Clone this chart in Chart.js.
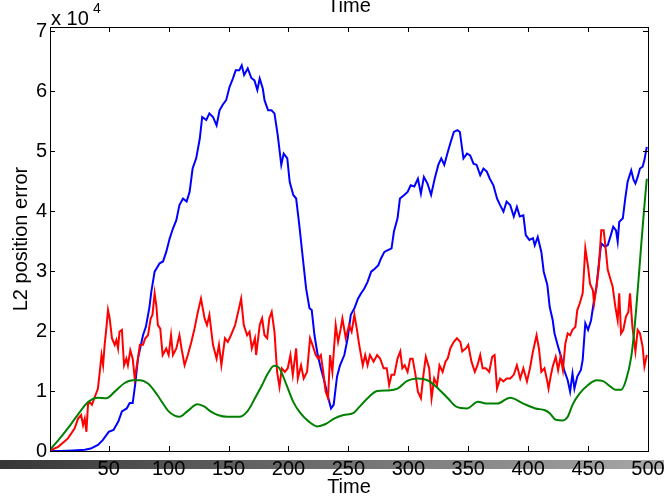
<!DOCTYPE html>
<html>
<head>
<meta charset="utf-8">
<script src="https://cdn.jsdelivr.net/npm/chart.js@4/dist/chart.umd.min.js"></script>
<style>
  body { margin: 0; background: #fff; }
  #wrap { width: 664px; height: 499px; position: relative; }
</style>
</head>
<body>
<div id="wrap"><canvas id="myChart"></canvas></div>
<script>
// values are in units of 10^4 (the axis says "x 10^4")
const xTicks = [50, 100, 150, 200, 250, 300, 350, 400, 450, 500];
const yTicks = [0, 1, 2, 3, 4, 5, 6, 7];

const blueTime = [0, 10, 20, 30, 35, 41, 45, 50, 54, 58, 61, 65, 67.5, 70, 72, 74.4, 78.6, 81, 84, 85.5, 88.3, 92.5, 95.3, 98, 100.8, 103.6, 106.4, 109, 112, 115, 117.5, 120, 123, 126, 128, 131.4, 134, 137, 140, 142.5, 145, 148, 150.8, 153.6, 156, 159, 161, 163, 166, 169, 171.6, 174, 176, 178.6, 180, 183, 185.8, 188.3, 191, 194, 196, 199, 201, 204, 206.4, 209, 212, 214.7, 217.5, 219.4, 221.7, 224.4, 227, 230, 232.7, 235.5, 237.7, 240.5, 243, 246.6, 249.4, 252, 255, 258, 260.6, 263.3, 266, 269, 272, 275, 277.2, 280, 283, 286, 288, 291, 293, 296.6, 299.4, 302, 305, 308, 310.5, 313, 316, 319, 322, 325, 327.5, 330, 333, 335.5, 338, 341, 343, 346, 349, 351.6, 354.4, 357, 360, 362.7, 365.5, 368, 371, 374, 376.6, 379.4, 382, 385, 388, 390.6, 393, 396, 398, 401, 404, 405.5, 408, 411, 413, 416, 418, 420.5, 422, 425, 427.5, 430, 433, 435, 437, 438.6, 441, 444, 445.5, 447.7, 450, 452.5, 455, 457, 459, 461, 464, 466.4, 469, 471, 473.3, 474.7, 476, 479, 481, 483, 486, 488, 489.5, 491.4, 493.3, 495.5, 497, 499];
const blueVal = [0, 0, 0.01, 0.02, 0.04, 0.1, 0.18, 0.32, 0.35, 0.49, 0.66, 0.71, 0.8, 0.8, 1.1, 1.54, 1.93, 2.07, 2.4, 2.65, 2.99, 3.13, 3.16, 3.32, 3.54, 3.71, 3.85, 4.1, 4.21, 4.16, 4.32, 4.71, 4.88, 5.21, 5.57, 5.52, 5.63, 5.57, 5.43, 5.68, 5.77, 5.85, 6.07, 6.21, 6.35, 6.35, 6.43, 6.27, 6.38, 6.22, 6.18, 6.02, 6.21, 6.04, 5.85, 5.68, 5.68, 5.63, 5.27, 4.77, 4.96, 4.88, 4.49, 4.27, 4.21, 3.77, 3.21, 2.71, 2.38, 2.35, 1.93, 1.6, 1.38, 1.16, 0.93, 0.71, 0.77, 1.24, 1.43, 1.6, 1.88, 2.27, 2.38, 2.54, 2.63, 2.71, 2.82, 2.99, 3.04, 3.1, 3.21, 3.32, 3.35, 3.38, 3.66, 3.88, 4.21, 4.27, 4.32, 4.43, 4.41, 4.54, 4.29, 4.57, 4.46, 4.27, 4.54, 4.77, 4.88, 4.77, 4.99, 5.16, 5.32, 5.35, 5.32, 4.88, 4.96, 4.93, 4.79, 4.77, 4.6, 4.71, 4.66, 4.54, 4.43, 4.21, 4.1, 3.99, 4.16, 4.1, 3.91, 4.07, 3.91, 3.93, 3.6, 3.52, 3.55, 3.43, 3.57, 3.32, 2.99, 2.77, 2.4, 2.18, 1.96, 1.74, 1.57, 1.35, 1.18, 0.99, 1.29, 1.04, 1.24, 1.35, 1.52, 2.13, 2.02, 2.18, 2.52, 2.74, 3.13, 3.46, 3.41, 3.43, 3.6, 3.74, 3.68, 3.49, 3.82, 3.88, 4.21, 4.49, 4.68, 4.52, 4.46, 4.57, 4.71, 4.74, 4.85, 5.07];

const redTime = [0, 7.8, 16, 21.6, 24.4, 27, 28.6, 30, 31.4, 32.7, 34, 36, 38, 41, 42.5, 44, 45.3, 46.6, 48, 49.4, 50.8, 52.7, 55, 56.4, 57.8, 59, 61, 62.8, 64.7, 66, 68, 70, 71.7, 74, 76, 78.6, 80.5, 82.8, 85, 86.5, 88.3, 89.7, 91, 93, 95, 98, 100, 102, 103.6, 106.4, 109, 111, 113.3, 116, 119, 121.6, 124.4, 127, 130, 132, 134, 137, 140, 142, 144, 147, 149.4, 152, 155.5, 158, 160.5, 162.7, 165.5, 167.5, 169.4, 172, 173, 176, 178, 180, 182.2, 184, 186, 188.3, 190.5, 192.5, 194.4, 197, 199.4, 201.6, 203.6, 206.4, 207.8, 210.5, 212.7, 215.5, 218, 220, 222.8, 224.8, 227, 229, 231, 233, 234.7, 236.6, 239.4, 241.4, 243.6, 245, 247.8, 250.6, 252.7, 255, 257, 259, 262, 264, 266, 268, 271, 274, 276.5, 279.4, 282, 284, 286, 288.3, 291, 293.3, 295, 297, 299.4, 301.6, 303.6, 306, 308, 310.5, 312.6, 314.6, 317.4, 319.4, 321.6, 324, 326, 328.6, 331, 333, 335, 338, 340.6, 343.4, 345, 348, 350, 352.7, 355.5, 357.7, 360, 362, 364.7, 367.5, 370, 372, 374, 376.6, 379.4, 382, 385, 388, 390.6, 393.4, 396, 399, 401.5, 404, 407, 409, 411, 413.6, 416, 417, 419, 420.5, 423, 425, 427, 429, 431, 433, 435, 437, 439.4, 441, 443, 445.5, 447.7, 450, 451.6, 454, 455, 457, 459, 461, 463, 464.5, 466.4, 468, 470.5, 472.7, 474.7, 476, 477.5, 479.4, 481.6, 483.6, 485, 487, 489.5, 491.4, 493.3, 495.5, 497, 499];
const redVal = [0, 0.07, 0.21, 0.38, 0.54, 0.6, 0.43, 0.54, 0.32, 0.77, 0.82, 0.77, 0.88, 1.04, 1.32, 1.6, 1.43, 1.77, 2.04, 2.35, 2.21, 1.88, 1.77, 1.85, 1.71, 1.99, 2.02, 1.43, 1.54, 1.43, 1.68, 1.54, 1.21, 1.49, 1.77, 1.77, 1.88, 1.93, 2.21, 2.27, 2.63, 2.43, 2.1, 2.04, 1.6, 1.71, 1.6, 1.93, 1.6, 1.71, 1.93, 1.68, 1.43, 1.6, 1.82, 2.04, 2.32, 2.54, 2.21, 2.1, 2.27, 1.77, 1.54, 1.77, 1.43, 1.88, 1.82, 1.93, 2.1, 2.32, 2.54, 2.1, 1.93, 1.99, 1.71, 1.88, 1.6, 2.1, 2.21, 1.93, 1.88, 2.21, 2.32, 1.99, 1.32, 1.07, 1.38, 1.32, 1.38, 1.6, 1.27, 1.71, 1.21, 1.43, 1.21, 1.32, 1.88, 1.77, 1.6, 1.54, 1.6, 1.32, 0.99, 0.88, 1.6, 1.32, 2.1, 1.82, 2.04, 2.21, 1.88, 2.1, 1.99, 2.27, 2.04, 1.77, 1.43, 1.6, 1.43, 1.6, 1.49, 1.6, 1.54, 1.38, 1.38, 1.1, 1.27, 1.27, 1.54, 1.66, 1.38, 1.43, 1.32, 1.54, 1.54, 1.27, 0.99, 0.88, 1.27, 1.57, 1.38, 0.88, 1.21, 1.1, 1.43, 1.32, 1.49, 1.55, 1.71, 1.82, 1.88, 1.82, 1.66, 1.71, 1.77, 1.49, 1.32, 1.43, 1.6, 1.38, 1.38, 1.32, 1.57, 1.6, 1.04, 1.21, 1.16, 1.21, 1.21, 1.27, 1.43, 1.21, 1.38, 1.16, 1.38, 1.66, 1.93, 1.71, 1.32, 1.38, 1.16, 1.04, 1.27, 1.41, 1.57, 1.35, 1.57, 1.35, 1.79, 1.96, 1.93, 2.02, 2.07, 2.35, 2.46, 2.63, 3.38, 3.07, 2.79, 2.68, 2.46, 2.74, 3.07, 3.68, 3.68, 3.41, 3.02, 2.91, 2.74, 2.41, 2.18, 2.63, 1.96, 2.02, 2.24, 2.32, 2.63, 2.07, 1.66, 2.02, 1.96, 1.74, 1.41, 1.6];

const greenTime = [0, 8, 16, 24, 33, 41, 48, 55, 63, 70, 76, 83, 90, 95, 100, 105, 109, 116, 124, 130, 135, 141, 149, 159, 166, 172, 178, 183, 188, 192, 198, 204, 210, 217, 224, 231, 238, 246, 254, 258, 266, 274, 283, 291, 299, 308, 316, 325, 333, 340, 349, 358, 366, 374, 385, 396, 406, 414, 418, 423, 429, 433, 437, 443, 450, 457, 462, 469, 473, 477.5, 481.6, 486, 488.6, 491.4, 494, 496.7, 499];
const greenVal = [0, 0.18, 0.38, 0.6, 0.82, 0.89, 0.88, 0.99, 1.13, 1.18, 1.18, 1.12, 0.95, 0.8, 0.66, 0.59, 0.57, 0.67, 0.78, 0.74, 0.66, 0.6, 0.57, 0.57, 0.67, 0.88, 1.1, 1.3, 1.42, 1.39, 1.12, 0.82, 0.63, 0.49, 0.41, 0.45, 0.54, 0.6, 0.63, 0.71, 0.88, 1.0, 1.01, 1.04, 1.17, 1.21, 1.18, 1.04, 0.88, 0.74, 0.71, 0.82, 0.79, 0.79, 0.89, 0.79, 0.71, 0.68, 0.63, 0.52, 0.51, 0.57, 0.77, 0.96, 1.1, 1.18, 1.17, 1.07, 1.02, 1.02, 1.18, 1.57, 2.02, 2.68, 3.35, 4.02, 4.54];

function toPoints(ts, vs) {
  return ts.map((t, i) => ({ x: t, y: vs[i] }));
}

const FONT = "'Liberation Sans', Arial, Helvetica, sans-serif";
const FS = 20;

// gray bar under the x axis, box with inward ticks, the top texts
const matlabBits = {
  id: "matlabBits",
  beforeDraw(chart) {
    const ctx = chart.ctx;
    const g = ctx.createLinearGradient(0, 0, chart.width, 0);
    g.addColorStop(0, "#363636");
    g.addColorStop(1, "#a8a8a8");
    ctx.save();
    ctx.fillStyle = g;
    ctx.fillRect(0, 460, chart.width, 9);
    ctx.restore();
  },
  afterDraw(chart) {
    const ctx = chart.ctx;
    const a = chart.chartArea;
    const xs = chart.scales.x;
    const ys = chart.scales.y;
    ctx.save();
    ctx.strokeStyle = "#000";
    ctx.lineWidth = 1;
    ctx.beginPath();
    xTicks.forEach((v) => {
      const px = Math.round(xs.getPixelForValue(v)) + 0.5;
      ctx.moveTo(px, a.bottom); ctx.lineTo(px, a.bottom - 5);
      ctx.moveTo(px, a.top); ctx.lineTo(px, a.top + 5);
    });
    yTicks.forEach((v) => {
      const py = Math.round(ys.getPixelForValue(v)) + 0.5;
      ctx.moveTo(a.left, py); ctx.lineTo(a.left + 5, py);
      ctx.moveTo(a.right, py); ctx.lineTo(a.right - 5, py);
    });
    ctx.stroke();
    ctx.strokeRect(Math.round(a.left) + 0.5, Math.round(a.top) + 0.5,
      Math.round(a.right - a.left), Math.round(a.bottom - a.top));

    ctx.fillStyle = "#000";
    ctx.textBaseline = "alphabetic";
    ctx.font = FS + "px " + FONT;
    ctx.textAlign = "center";
    ctx.fillText("Time", (a.left + a.right) / 2, 12);
    ctx.textAlign = "left";
    ctx.fillText("x 10", 51, 25);
    ctx.font = "14px " + FONT;
    ctx.fillText("4", 93, 13);
    ctx.restore();
  },
};

new Chart(document.getElementById("myChart"), {
  type: "line",
  data: {
    datasets: [
      {
        label: "blue",
        data: toPoints(blueTime, blueVal),
        borderColor: "#0000ff",
        borderWidth: 2,
        pointRadius: 0,
        tension: 0,
        order: 3,
      },
      {
        label: "red",
        data: toPoints(redTime, redVal),
        borderColor: "#ff0000",
        borderWidth: 2,
        pointRadius: 0,
        tension: 0,
        order: 2,
      },
      {
        label: "green",
        data: toPoints(greenTime, greenVal),
        borderColor: "#008000",
        borderWidth: 2,
        pointRadius: 0,
        cubicInterpolationMode: "monotone",
        order: 1,
      },
    ],
  },
  options: {
    responsive: true,
    maintainAspectRatio: false,
    animation: false,
    layout: { padding: { top: 27, right: 16, left: 0, bottom: 0 } },
    plugins: { legend: { display: false }, tooltip: { enabled: false } },
    scales: {
      x: {
        type: "linear",
        min: 1,
        max: 500,
        grid: { display: false, drawTicks: false },
        border: { display: false },
        afterBuildTicks: (s) => { s.ticks = xTicks.map((v) => ({ value: v })); },
        afterFit: (s) => { s.height = 48; s.paddingLeft = 0; s.paddingRight = 0; },
        ticks: { color: "#000", padding: 6, maxRotation: 0, font: { family: FONT, size: FS } },
        title: { display: true, text: "Time", color: "#000", padding: { top: 0, bottom: 0 }, font: { family: FONT, size: FS } },
      },
      y: {
        min: 0,
        max: 7.07,
        grid: { display: false, drawTicks: false },
        border: { display: false },
        afterBuildTicks: (s) => { s.ticks = yTicks.map((v) => ({ value: v })); },
        afterFit: (s) => { s.width = 50; s.paddingTop = 0; s.paddingBottom = 0; },
        ticks: { color: "#000", padding: 3, font: { family: FONT, size: FS } },
        title: { display: true, text: "L2 position error", color: "#000", padding: { top: 9, bottom: 0 }, font: { family: FONT, size: FS } },
      },
    },
  },
  plugins: [matlabBits],
});
</script>
</body>
</html>
